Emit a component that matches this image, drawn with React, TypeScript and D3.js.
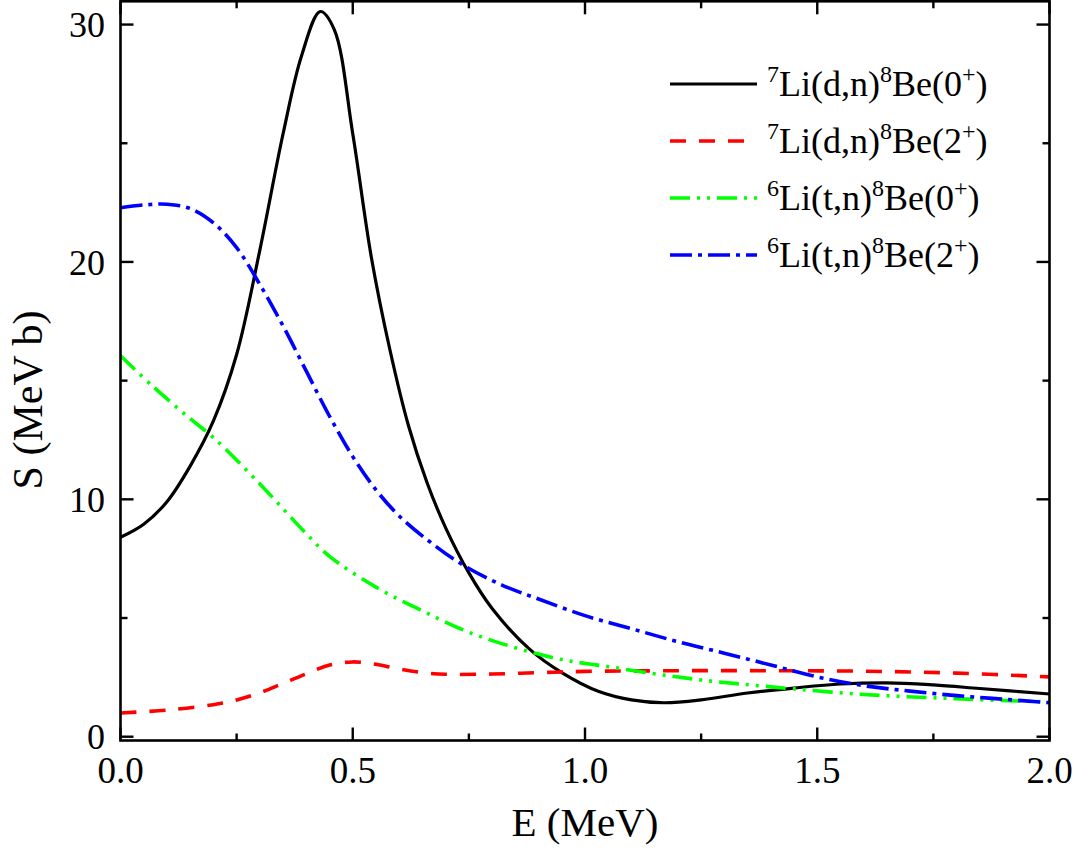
import React from "react";
import * as d3 from "d3";

const blackE = [0, 0.05, 0.1, 0.15, 0.2, 0.25, 0.3, 0.35, 0.39, 0.43, 0.46, 0.5, 0.54, 0.58, 0.62, 0.66, 0.7, 0.75, 0.8, 0.88, 0.95, 1.03, 1.1, 1.17, 1.25, 1.35, 1.45, 1.55, 1.65, 1.75, 1.85, 2.0];
const blackS = [8.4, 8.95, 9.9, 11.4, 13.3, 16.1, 20.5, 25.4, 28.7, 30.55, 29.8, 25.4, 20.2, 16.3, 13.1, 10.7, 8.8, 6.9, 5.4, 3.7, 2.7, 1.9, 1.55, 1.43, 1.55, 1.84, 2.05, 2.22, 2.27, 2.18, 2.03, 1.8];

const redE = [0, 0.1, 0.2, 0.25, 0.3, 0.35, 0.4, 0.45, 0.5, 0.55, 0.6, 0.65, 0.7, 0.8, 0.9, 1.0, 1.2, 1.4, 1.6, 1.8, 2.0];
const redS = [1.0, 1.12, 1.35, 1.55, 1.85, 2.25, 2.65, 3.02, 3.15, 3.05, 2.85, 2.7, 2.63, 2.64, 2.7, 2.75, 2.78, 2.78, 2.76, 2.68, 2.52];

const greenE = [0, 0.07, 0.15, 0.2, 0.3, 0.4, 0.45, 0.55, 0.65, 0.75, 0.85, 0.95, 1.05, 1.15, 1.25, 1.4, 1.6, 1.8, 2.0];
const greenS = [16.05, 14.75, 13.4, 12.6, 10.65, 8.55, 7.6, 6.3, 5.3, 4.4, 3.75, 3.25, 2.95, 2.65, 2.39, 2.1, 1.78, 1.6, 1.46];

const blueE = [0, 0.05, 0.1, 0.15, 0.2, 0.25, 0.3, 0.35, 0.4, 0.45, 0.5, 0.55, 0.6, 0.67, 0.74, 0.82, 0.9, 1.0, 1.1, 1.2, 1.3, 1.4, 1.5, 1.6, 1.7, 1.8, 1.9, 2.0];
const blueS = [22.28, 22.4, 22.43, 22.25, 21.65, 20.6, 19.05, 17.3, 15.4, 13.5, 11.8, 10.4, 9.3, 8.15, 7.2, 6.4, 5.8, 5.1, 4.55, 4.0, 3.52, 3.02, 2.52, 2.15, 1.92, 1.73, 1.58, 1.43];

const xTicks = [0, 0.5, 1.0, 1.5, 2.0];
const xMinor = [0.25, 0.75, 1.25, 1.75];
const yTicks = [0, 10, 20, 30];
const yMinor = [5, 15, 25];

const series = [
  { E: blackE, S: blackS, color: "#000000", dash: "", width: 3.2, a: "7", b: "Li(d,n)", c: "8", d: "Be(", e: "0" },
  { E: redE, S: redS, color: "#ff0000", dash: "16,13", width: 3.6, a: "7", b: "Li(d,n)", c: "8", d: "Be(", e: "2" },
  { E: greenE, S: greenS, color: "#00ff00", dash: "20,7,3,7,3,7", width: 3.6, a: "6", b: "Li(t,n)", c: "8", d: "Be(", e: "0" },
  { E: blueE, S: blueS, color: "#0000ff", dash: "22,6,4,6", width: 3.6, a: "6", b: "Li(t,n)", c: "8", d: "Be(", e: "2" },
];

const L = 120.5, R = 1049.5, T = 1.3, B = 740.5;

export default function App() {
  const x = d3.scaleLinear().domain([0, 2]).range([L, R]);
  const y = d3.scaleLinear().domain([-0.16, 30.98]).range([B, T]);
  const font = "'Liberation Serif', 'Times New Roman', serif";

  return (
    <svg width={1078} height={852} style={{ position: "absolute", left: 0, top: 0, background: "#fff" }} fontFamily={font}>
      <defs>
        <clipPath id="plot">
          <rect x={L} y={T} width={R - L} height={B - T} />
        </clipPath>
      </defs>
      <rect x={0} y={0} width={1078} height={852} fill="#fff" />
      <g clipPath="url(#plot)">
        {series.map((s, i) => {
          const pts: [number, number][] = s.E.map((e, j) => [e, s.S[j]]);
          const line = d3.line<[number, number]>().x((d) => x(d[0])).y((d) => y(d[1])).curve(d3.curveCatmullRom.alpha(0.5));
          return (
            <path key={i} d={line(pts) || ""} fill="none" stroke={s.color} strokeWidth={s.width} strokeDasharray={s.dash || undefined} />
          );
        })}
      </g>
      <rect x={L} y={T} width={R - L} height={B - T} fill="none" stroke="#000" strokeWidth={2.6} />
      {xTicks.map((t) => (
        <g key={"xt" + t}>
          <line x1={x(t)} x2={x(t)} y1={B} y2={B - 13} stroke="#000" strokeWidth={2.4} />
          <line x1={x(t)} x2={x(t)} y1={T} y2={T + 13} stroke="#000" strokeWidth={2.4} />
          <text x={x(t)} y={783} fontSize={37} textAnchor="middle">{d3.format(".1f")(t)}</text>
        </g>
      ))}
      {xMinor.map((t) => (
        <g key={"xm" + t}>
          <line x1={x(t)} x2={x(t)} y1={B} y2={B - 7} stroke="#000" strokeWidth={2.4} />
          <line x1={x(t)} x2={x(t)} y1={T} y2={T + 7} stroke="#000" strokeWidth={2.4} />
        </g>
      ))}
      {yTicks.map((t) => (
        <g key={"yt" + t}>
          <line x1={L} x2={L + 13} y1={y(t)} y2={y(t)} stroke="#000" strokeWidth={2.4} />
          <line x1={R} x2={R - 13} y1={y(t)} y2={y(t)} stroke="#000" strokeWidth={2.4} />
          <text x={105} y={y(t)} dy="0.35em" fontSize={36} textAnchor="end">{t}</text>
        </g>
      ))}
      {yMinor.map((t) => (
        <g key={"ym" + t}>
          <line x1={L} x2={L + 7} y1={y(t)} y2={y(t)} stroke="#000" strokeWidth={2.4} />
          <line x1={R} x2={R - 7} y1={y(t)} y2={y(t)} stroke="#000" strokeWidth={2.4} />
        </g>
      ))}
      <text x={(L + R) / 2} y={836} fontSize={41} textAnchor="middle">E (MeV)</text>
      <text transform="translate(42,400) rotate(-90)" fontSize={42} textAnchor="middle">S (MeV b)</text>
      {series.map((s, i) => {
        const ly = 84 + i * 57;
        return (
          <g key={"lg" + i}>
            <line x1={670} x2={757} y1={ly} y2={ly} stroke={s.color} strokeWidth={s.width} strokeDasharray={s.dash || undefined} />
            <text x={767} y={ly + 12} fontSize={36}>
              <tspan fontSize={24} dy={-14}>{s.a}</tspan>
              <tspan dy={14}>{s.b}</tspan>
              <tspan fontSize={24} dy={-14}>{s.c}</tspan>
              <tspan dy={14}>{s.d}</tspan>
              <tspan>{s.e}</tspan>
              <tspan fontSize={24} dy={-14}>+</tspan>
              <tspan dy={14}>)</tspan>
            </text>
          </g>
        );
      })}
    </svg>
  );
}
